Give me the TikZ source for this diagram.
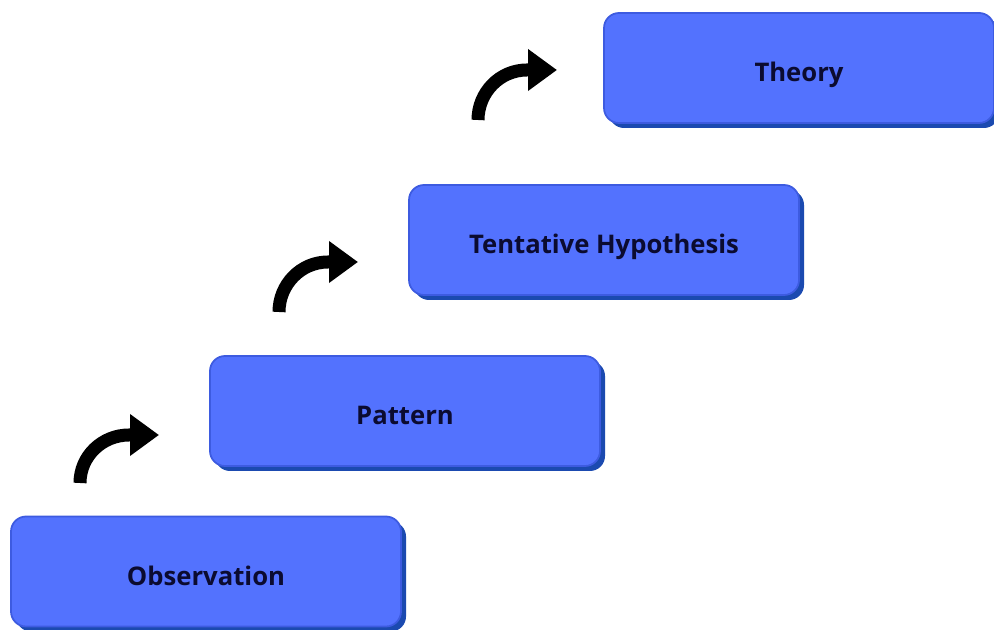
\documentclass[tikz,border=0pt]{standalone}
\usepackage{fontspec}
\setmainfont{Open Sans}
\usepackage{tikz}
\usetikzlibrary{arrows.meta,shadows}

\definecolor{stepfill}{HTML}{5372FE}
\definecolor{stepline}{HTML}{3D5BE0}
\definecolor{stepshade}{HTML}{1B4AB0}
\definecolor{steptext}{HTML}{0B0B30}

\tikzset{
	stage/.style={draw=stepline, line width=0.5pt, fill=stepfill, rounded corners=0.15cm,
		minimum width=3.9cm, minimum height=1.1cm, text height=9.3pt, text depth=1.5pt,
		drop shadow={shadow xshift=0.05cm, shadow yshift=-0.05cm, fill=stepshade, opacity=1},
		font=\fontsize{7.3}{8}\selectfont\bfseries, text=steptext},
	upstep/.style={line width=3.7pt, -{Triangle[length=0.29cm,width=0.40cm]}}
}

\begin{document}
\begin{tikzpicture}
			\useasboundingbox (0,0) rectangle (9.94,6.30);
			\node [stage] (obs) at (2.06,0.585) {Observation};
			\node [stage] (pat) at (4.05,2.19) {Pattern};
			\node [stage] (hyp) at (6.04,3.90) {Tentative Hypothesis};
			\node [stage] (thy) at (7.99,5.62) {Theory};

			\coordinate (s1) at (0.80,1.47);
			\coordinate (m1) at (1.29,1.95);
			\coordinate (t1) at (1.59,1.95);
			\coordinate (s2) at (2.79,3.18);
			\coordinate (m2) at (3.28,3.68);
			\coordinate (t2) at (3.58,3.68);
			\coordinate (s3) at (4.78,5.10);
			\coordinate (m3) at (5.27,5.60);
			\coordinate (t3) at (5.57,5.60);

			\draw [upstep] (s1) to[out=90,in=180] (m1) -- (t1);
			\draw [upstep] (s2) to[out=90,in=180] (m2) -- (t2);
			\draw [upstep] (s3) to[out=90,in=180] (m3) -- (t3);
		\end{tikzpicture}
\end{document}
